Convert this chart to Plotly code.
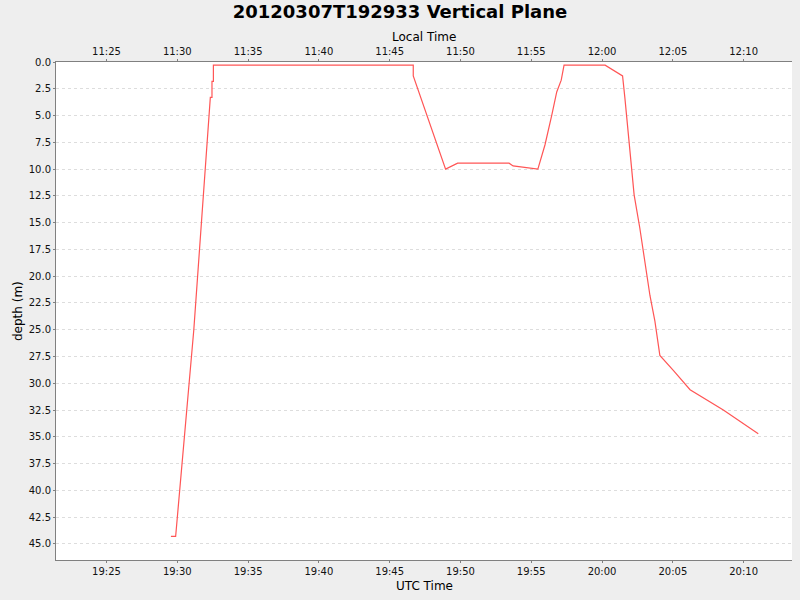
import pandas as pd
import plotly.graph_objects as go

# --- data (UTC time, depth in metres) --------------------------------------
utc_times = [
    "19:29:33", "19:29:53", "19:31:10", "19:31:59", "19:32:16", "19:32:20",
    "19:32:27", "19:32:27", "19:32:33", "19:32:33", "19:46:40", "19:46:40",
    "19:48:57", "19:49:48", "19:53:26", "19:53:43", "19:55:28", "19:55:58",
    "19:56:27", "19:56:48", "19:57:07", "19:57:19", "20:00:13", "20:00:46",
    "20:01:27", "20:01:37", "20:01:54", "20:02:05", "20:02:16", "20:02:40",
    "20:03:02", "20:03:23", "20:03:44", "20:03:58", "20:04:05", "20:05:02",
    "20:05:44", "20:06:13", "20:08:34", "20:10:13", "20:11:02",
]
depth_m = [
    44.3, 44.3, 25.0, 10.1, 4.3, 3.3,
    3.3, 1.8, 1.8, 0.3, 0.3, 1.3,
    10.0, 9.45, 9.45, 9.7, 10.0, 7.75,
    4.95, 2.8, 1.7, 0.3, 0.3, 0.75,
    1.3, 3.4, 7.1, 9.9, 12.4, 15.5,
    18.6, 21.8, 24.2, 26.4, 27.4, 28.8,
    29.9, 30.6, 32.5, 34.0, 34.7,
]
day = "2012-03-07"
utc_offset_hours = -8          # local time shown on the top axis
x_range = ["19:21:26", "20:13:25"]
y_range = [46.5, 0.0]

utc = pd.to_datetime([f"{day} {t}" for t in utc_times])
local = utc + pd.Timedelta(hours=utc_offset_hours)
rng_utc = pd.to_datetime([f"{day} {t}" for t in x_range])
rng_local = rng_utc + pd.Timedelta(hours=utc_offset_hours)

FONT = "DejaVu Sans"
AXIS_GREY = "#808080"
W, H = 800, 600
M = dict(l=56, r=8, t=62, b=40)
plot_w = W - M["l"] - M["r"]
plot_h = H - M["t"] - M["b"]

fig = go.Figure()
fig.add_trace(go.Scatter(x=utc, y=depth_m, mode="lines",
                         line=dict(color="#ff5555", width=1.2),
                         hoverinfo="x+y", showlegend=False))
# invisible twin so the local-time axis gets drawn
fig.add_trace(go.Scatter(x=local, y=depth_m, xaxis="x2", mode="lines",
                         line=dict(width=0), opacity=0,
                         hoverinfo="skip", showlegend=False))

common_x = dict(type="date", tickformat="%H:%M", dtick=300000,
                showgrid=False, zeroline=False, showline=True,
                linecolor=AXIS_GREY, linewidth=1, ticks="outside",
                ticklen=2, tickcolor=AXIS_GREY, automargin=False,
                tickfont=dict(family=FONT, size=10, color="#111111"))


def label(text, px_x, px_y, angle=0):
    # axis titles placed by pixel position measured on the reference
    return dict(text=text, xref="paper", yref="paper",
                x=(px_x - M["l"]) / plot_w, y=(H - M["b"] - px_y) / plot_h,
                xanchor="center", yanchor="middle", showarrow=False,
                textangle=angle, font=dict(family=FONT, size=12, color="#000"))


fig.update_layout(
    width=W, height=H,
    paper_bgcolor="#eeeeee", plot_bgcolor="#ffffff",
    margin=M,
    font=dict(family=FONT, color="#000000"),
    title=dict(text="<b>20120307T192933 Vertical Plane</b>",
               x=0.5, xanchor="center", y=1 - 12 / H, yanchor="middle",
               yref="container", font=dict(family=FONT, size=18)),
    xaxis=dict(common_x, range=list(rng_utc), side="bottom"),
    xaxis2=dict(common_x, range=list(rng_local), side="top",
                overlaying="x", anchor="y"),
    yaxis=dict(range=y_range, dtick=2.5, tick0=0, tickformat=".1f",
               showgrid=True, gridcolor="#dddddd", griddash="3px,3px",
               gridwidth=1, zeroline=False, showline=True,
               linecolor=AXIS_GREY, linewidth=1, ticks="outside",
               ticklen=2, tickcolor=AXIS_GREY, automargin=False,
               tickfont=dict(family=FONT, size=10, color="#111111")),
    annotations=[
        label("Local Time", 424, 37),
        label("UTC Time", 424, 586),
        label("depth (m)", 18, 311, angle=-90),
    ],
)

fig.write_html("out.html", config={"displayModeBar": False},
               post_script="document.body.style.margin='0';")
